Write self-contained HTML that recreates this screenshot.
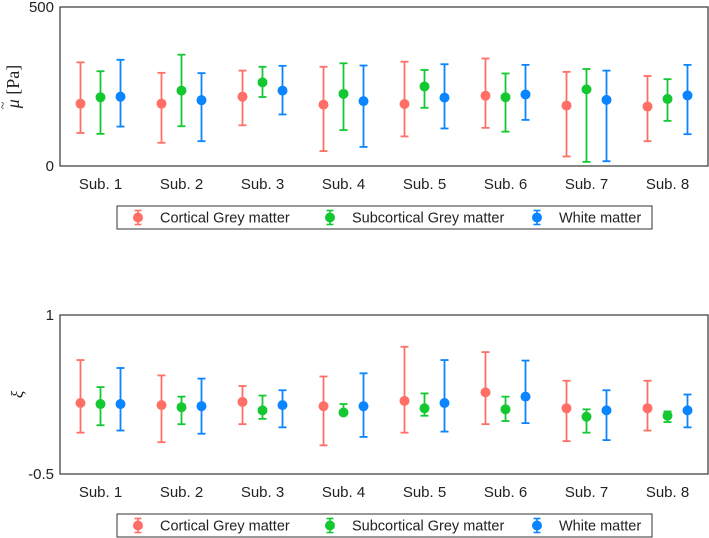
<!DOCTYPE html>
<html><head><meta charset="utf-8"><style>
body{margin:0;background:#fff;}
svg{display:block;font-family:"Liberation Sans",sans-serif;}
</style></head><body>
<svg id="chart" width="709" height="538" viewBox="0 0 709 538"></svg>
<script>
const categories=["Sub. 1","Sub. 2","Sub. 3","Sub. 4","Sub. 5","Sub. 6","Sub. 7","Sub. 8"];
const seriesNames=["Cortical Grey matter","Subcortical Grey matter","White matter"];
const colors=["#ff6f66","#14c832","#0a84ff"];
// top panel (mu, Pa): center, low, high
const muCortical=[[196,104,326],[196,73,293],[218,128,300],[193,47,312],[195,93,328],[221,120,338],[190,30,296],[187,78,283]];
const muSubcortical=[[216,101,298],[237,125,350],[263,217,312],[227,113,323],[250,183,302],[216,108,291],[241,13,305],[211,142,273]];
const muWhite=[[218,124,334],[207,78,292],[237,162,315],[204,60,316],[215,118,320],[225,145,318],[208,15,300],[222,100,318]];
// bottom panel (xi)
const xiCortical=[[0.17,-0.11,0.575],[0.15,-0.2,0.43],[0.18,-0.03,0.33],[0.14,-0.23,0.42],[0.19,-0.11,0.70],[0.27,-0.03,0.65],[0.12,-0.19,0.38],[0.12,-0.09,0.38]];
const xiSubcortical=[[0.16,-0.04,0.32],[0.13,-0.03,0.23],[0.10,0.02,0.24],[0.08,0.06,0.16],[0.12,0.05,0.26],[0.11,0.0,0.23],[0.04,-0.11,0.11],[0.05,-0.01,0.09]];
const xiWhite=[[0.16,-0.09,0.5],[0.14,-0.12,0.4],[0.15,-0.06,0.29],[0.14,-0.15,0.45],[0.17,-0.10,0.575],[0.23,-0.02,0.57],[0.10,-0.18,0.29],[0.10,-0.06,0.25]];
const muTicks=[0,500];
const muTickLabels=["0","500"];
const xiTicks=[-0.5,1];
const xiTickLabels=["-0.5","1"];

const NS="http://www.w3.org/2000/svg";
const svg=document.getElementById('chart');
function el(tag,attrs,parent){const e=document.createElementNS(NS,tag);for(const k in attrs)e.setAttribute(k,attrs[k]);(parent||svg).appendChild(e);return e;}

function panel(top,bottom,ymin,ymax,ticks,tickLabels,seriesData,isMu,legendY,prefix){
  const L=60,R=708;
  const g=el('g',{});
  
  
  const ys=v=>bottom-(v-ymin)/(ymax-ymin)*(bottom-top);
  const band=(R-L)/categories.length;
  const xs=(i,s)=>L+band*(i+0.5)+(s-1)*20;
  const box=el('rect',{x:L,y:top,width:R-L,height:bottom-top,fill:'#fff',stroke:'#444','stroke-width':1.3},g);
  
  
  ticks.forEach((t,i)=>{
    const tx=el('text',{x:L-6,y:ys(t)+5,'text-anchor':'end','font-size':15,fill:'#222'},g);
    tx.textContent=tickLabels[i];
    
    
  });
  categories.forEach((c,i)=>{
    const tx=el('text',{x:L+band*(i+0.5),y:bottom+23,'text-anchor':'middle','font-size':15,fill:'#222'},g);
    tx.textContent=c;
    
    
  });
  seriesData.forEach((arr,s)=>{
    arr.forEach((d,i)=>{
      const x=xs(i,s);
      const eg=el('g',{stroke:colors[s],'stroke-width':1.8,fill:colors[s]},g);
      
      
      el('line',{x1:x,x2:x,y1:ys(d[1]),y2:ys(d[2])},eg);
      el('line',{x1:x-4,x2:x+4,y1:ys(d[1]),y2:ys(d[1])},eg);
      el('line',{x1:x-4,x2:x+4,y1:ys(d[2]),y2:ys(d[2])},eg);
      el('circle',{cx:x,cy:ys(d[0]),r:5,stroke:'none'},eg);
    });
  });
  const cy=(top+bottom)/2;
  const yl=el('g',{transform:`translate(19,${cy}) rotate(-90)`,fill:'#222'},g);
  
  
  if(isMu){
    const t=el('text',{x:0,y:0,'text-anchor':'middle','font-size':18,'font-family':'"Liberation Serif",serif'},yl);
    const a=el('tspan',{'font-style':'italic'},t); a.textContent='μ';
    const b=el('tspan',{},t); b.textContent=' [Pa]';
    const tl=el('text',{x:-19,y:-12,'text-anchor':'middle','font-size':14,'font-family':'"Liberation Serif",serif'},yl);
    tl.textContent='~';
  } else {
    const t=el('text',{x:0,y:4,'text-anchor':'middle','font-size':17,'font-style':'italic','font-family':'"Liberation Serif",serif'},yl);
    t.textContent='ξ';
  }
  // legend
  const lg=el('g',{},g);
  
  
  el('rect',{x:117,y:legendY,width:535,height:23,fill:'#fff',stroke:'#333','stroke-width':1},lg);
  const mx=[138,330,537];
  seriesNames.forEach((n,s)=>{
    const eg=el('g',{},lg);
    
    
    const cy=legendY+11.5;
    el('line',{x1:mx[s],x2:mx[s],y1:cy-7,y2:cy+7,stroke:colors[s],'stroke-width':1.6},eg);
    el('line',{x1:mx[s]-3.5,x2:mx[s]+3.5,y1:cy-7,y2:cy-7,stroke:colors[s],'stroke-width':1.6},eg);
    el('line',{x1:mx[s]-3.5,x2:mx[s]+3.5,y1:cy+7,y2:cy+7,stroke:colors[s],'stroke-width':1.6},eg);
    el('circle',{cx:mx[s],cy:cy,r:5,fill:colors[s]},eg);
    const t=el('text',{x:mx[s]+22,y:cy+5,'font-size':14.5,fill:'#222'},eg);
    t.textContent=n;
  });
}
panel(7,166,0,500,muTicks,muTickLabels,[muCortical,muSubcortical,muWhite],true,206,'top');
panel(315,474,-0.5,1,xiTicks,xiTickLabels,[xiCortical,xiSubcortical,xiWhite],false,514,'bottom');
</script>
</body></html>
